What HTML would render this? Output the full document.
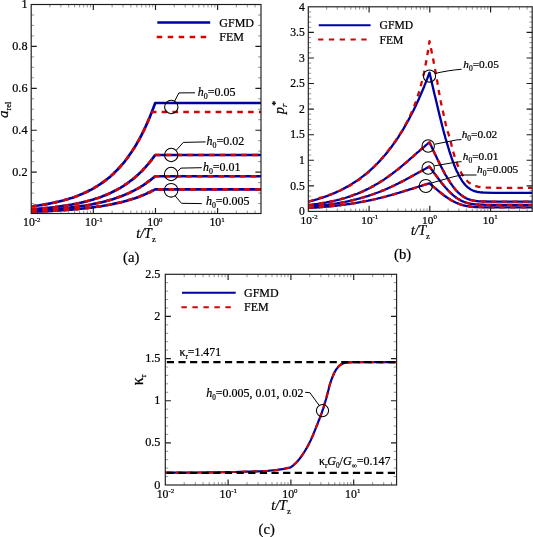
<!DOCTYPE html>
<html lang="en"><head><meta charset="utf-8"><title>GFMD vs FEM</title>
<style>html,body{margin:0;padding:0;background:#fff}svg{display:block;will-change:transform}text{font-family:'Liberation Serif', 'DejaVu Serif', serif;fill:#000;stroke:#000;stroke-width:.22px}</style>
</head><body>
<svg width="533" height="537" viewBox="0 0 533 537" role="img" aria-label="GFMD versus FEM comparison plots">
<rect width="533" height="537" fill="#fff"/>
<g id="plot-a">
<clipPath id="clipA"><rect x="31.2" y="4.5" width="229.8" height="209"/></clipPath>
<g clip-path="url(#clipA)" fill="none" stroke-linejoin="round">
<path d="M31.3 206.5 L32.7 206.3 L34.1 206.1 L35.5 205.9 L36.9 205.7 L38.3 205.5 L39.7 205.3 L41 205.1 L42.4 204.9 L43.8 204.6 L45.2 204.4 L46.6 204.1 L48 203.9 L49.4 203.6 L50.8 203.3 L52.2 203 L53.6 202.7 L55 202.4 L56.4 202.1 L57.8 201.8 L59.1 201.5 L60.5 201.1 L61.9 200.8 L63.3 200.4 L64.7 200 L66.1 199.6 L67.5 199.2 L68.9 198.8 L70.3 198.3 L71.7 197.9 L73.1 197.4 L74.5 196.9 L75.8 196.4 L77.2 195.9 L78.6 195.4 L80 194.8 L81.4 194.2 L82.8 193.6 L84.2 193 L85.6 192.4 L87 191.7 L88.4 191 L89.8 190.3 L91.2 189.6 L92.6 188.8 L93.9 188.1 L95.3 187.2 L96.7 186.4 L98.1 185.5 L99.5 184.6 L100.9 183.7 L102.3 182.7 L103.7 181.7 L105.1 180.7 L106.5 179.6 L107.9 178.5 L109.3 177.4 L110.7 176.2 L112 174.9 L113.4 173.7 L114.8 172.3 L116.2 170.9 L117.6 169.5 L119 168 L120.4 166.5 L121.8 164.9 L123.2 163.3 L124.6 161.6 L126 159.8 L127.4 158 L128.7 156.1 L130.1 154.1 L131.5 152.1 L132.9 149.9 L134.3 147.7 L135.7 145.5 L137.1 143.1 L138.5 140.6 L139.9 138.1 L141.3 135.5 L142.7 132.7 L144.1 129.9 L145.5 126.9 L146.8 123.9 L148.2 120.7 L149.6 117.4 L151 114 L152.4 110.5 L153.8 106.8 L155.2 103 L261 103" stroke="#0000a2" stroke-width="2.65"/>
<path d="M31.3 209.3 L32.7 209.2 L34.1 209.1 L35.5 209 L36.9 208.9 L38.3 208.8 L39.7 208.6 L41 208.5 L42.4 208.4 L43.8 208.3 L45.2 208.1 L46.6 208 L48 207.8 L49.4 207.7 L50.8 207.5 L52.2 207.4 L53.6 207.2 L55 207.1 L56.4 206.9 L57.8 206.7 L59.1 206.5 L60.5 206.3 L61.9 206.1 L63.3 205.9 L64.7 205.7 L66.1 205.5 L67.5 205.3 L68.9 205 L70.3 204.8 L71.7 204.6 L73.1 204.3 L74.5 204 L75.8 203.8 L77.2 203.5 L78.6 203.2 L80 202.9 L81.4 202.6 L82.8 202.2 L84.2 201.9 L85.6 201.6 L87 201.2 L88.4 200.8 L89.8 200.5 L91.2 200.1 L92.6 199.7 L93.9 199.2 L95.3 198.8 L96.7 198.3 L98.1 197.9 L99.5 197.4 L100.9 196.9 L102.3 196.4 L103.7 195.8 L105.1 195.3 L106.5 194.7 L107.9 194.1 L109.3 193.5 L110.7 192.9 L112 192.2 L113.4 191.5 L114.8 190.8 L116.2 190.1 L117.6 189.3 L119 188.6 L120.4 187.8 L121.8 186.9 L123.2 186.1 L124.6 185.2 L126 184.2 L127.4 183.3 L128.7 182.3 L130.1 181.2 L131.5 180.2 L132.9 179.1 L134.3 177.9 L135.7 176.7 L137.1 175.5 L138.5 174.3 L139.9 172.9 L141.3 171.6 L142.7 170.2 L144.1 168.7 L145.5 167.2 L146.8 165.6 L148.2 164 L149.6 162.3 L151 160.6 L152.4 158.8 L153.8 156.9 L155.2 155 L261 155" stroke="#0000a2" stroke-width="2.65"/>
<path d="M31.3 210.7 L32.7 210.6 L34.1 210.6 L35.5 210.5 L36.9 210.4 L38.3 210.3 L39.7 210.2 L41 210.2 L42.4 210.1 L43.8 210 L45.2 209.9 L46.6 209.8 L48 209.7 L49.4 209.6 L50.8 209.5 L52.2 209.4 L53.6 209.3 L55 209.1 L56.4 209 L57.8 208.9 L59.1 208.8 L60.5 208.6 L61.9 208.5 L63.3 208.4 L64.7 208.2 L66.1 208.1 L67.5 207.9 L68.9 207.8 L70.3 207.6 L71.7 207.4 L73.1 207.3 L74.5 207.1 L75.8 206.9 L77.2 206.7 L78.6 206.5 L80 206.3 L81.4 206.1 L82.8 205.9 L84.2 205.7 L85.6 205.5 L87 205.2 L88.4 205 L89.8 204.7 L91.2 204.5 L92.6 204.2 L93.9 203.9 L95.3 203.6 L96.7 203.3 L98.1 203 L99.5 202.7 L100.9 202.4 L102.3 202.1 L103.7 201.7 L105.1 201.4 L106.5 201 L107.9 200.6 L109.3 200.2 L110.7 199.8 L112 199.4 L113.4 199 L114.8 198.5 L116.2 198.1 L117.6 197.6 L119 197.1 L120.4 196.6 L121.8 196 L123.2 195.5 L124.6 194.9 L126 194.3 L127.4 193.7 L128.7 193.1 L130.1 192.5 L131.5 191.8 L132.9 191.1 L134.3 190.4 L135.7 189.6 L137.1 188.9 L138.5 188.1 L139.9 187.3 L141.3 186.4 L142.7 185.6 L144.1 184.7 L145.5 183.7 L146.8 182.7 L148.2 181.7 L149.6 180.7 L151 179.6 L152.4 178.5 L153.8 177.4 L155.2 176.2 L261 176.2" stroke="#0000a2" stroke-width="2.65"/>
<path d="M31.3 211.8 L32.7 211.7 L34.1 211.7 L35.5 211.6 L36.9 211.6 L38.3 211.5 L39.7 211.5 L41 211.4 L42.4 211.4 L43.8 211.3 L45.2 211.2 L46.6 211.2 L48 211.1 L49.4 211 L50.8 210.9 L52.2 210.9 L53.6 210.8 L55 210.7 L56.4 210.6 L57.8 210.6 L59.1 210.5 L60.5 210.4 L61.9 210.3 L63.3 210.2 L64.7 210.1 L66.1 210 L67.5 209.9 L68.9 209.8 L70.3 209.7 L71.7 209.6 L73.1 209.4 L74.5 209.3 L75.8 209.2 L77.2 209.1 L78.6 208.9 L80 208.8 L81.4 208.7 L82.8 208.5 L84.2 208.4 L85.6 208.2 L87 208.1 L88.4 207.9 L89.8 207.7 L91.2 207.6 L92.6 207.4 L93.9 207.2 L95.3 207 L96.7 206.8 L98.1 206.6 L99.5 206.4 L100.9 206.2 L102.3 206 L103.7 205.7 L105.1 205.5 L106.5 205.3 L107.9 205 L109.3 204.8 L110.7 204.5 L112 204.2 L113.4 203.9 L114.8 203.6 L116.2 203.3 L117.6 203 L119 202.7 L120.4 202.4 L121.8 202 L123.2 201.7 L124.6 201.3 L126 200.9 L127.4 200.5 L128.7 200.1 L130.1 199.7 L131.5 199.3 L132.9 198.8 L134.3 198.4 L135.7 197.9 L137.1 197.4 L138.5 196.9 L139.9 196.4 L141.3 195.8 L142.7 195.3 L144.1 194.7 L145.5 194.1 L146.8 193.5 L148.2 192.8 L149.6 192.2 L151 191.5 L152.4 190.8 L153.8 190.1 L155.2 189.3 L261 189.3" stroke="#0000a2" stroke-width="2.65"/>
<path d="M31.3 206.5 L32.7 206.3 L34.1 206.1 L35.5 205.9 L36.9 205.7 L38.3 205.5 L39.7 205.3 L41 205.1 L42.4 204.9 L43.8 204.6 L45.2 204.4 L46.6 204.1 L48 203.9 L49.4 203.6 L50.8 203.3 L52.2 203 L53.6 202.7 L55 202.4 L56.4 202.1 L57.8 201.8 L59.1 201.5 L60.5 201.1 L61.9 200.8 L63.3 200.4 L64.7 200 L66.1 199.6 L67.5 199.2 L68.9 198.8 L70.3 198.3 L71.7 197.9 L73.1 197.4 L74.5 196.9 L75.8 196.4 L77.2 195.9 L78.6 195.4 L80 194.8 L81.4 194.2 L82.8 193.6 L84.2 193 L85.6 192.4 L87 191.7 L88.4 191 L89.8 190.3 L91.2 189.6 L92.6 188.8 L93.9 188.1 L95.3 187.2 L96.7 186.4 L98.1 185.5 L99.5 184.6 L100.9 183.7 L102.3 182.7 L103.7 181.7 L105.1 180.7 L106.5 179.6 L107.9 178.5 L109.3 177.4 L110.7 176.2 L112 174.9 L113.4 173.7 L114.8 172.3 L116.2 170.9 L117.6 169.5 L119 168 L120.4 166.5 L121.8 164.9 L123.2 163.3 L124.6 161.6 L126 159.8 L127.4 158 L128.7 156.1 L130.1 154.1 L131.5 152.1 L132.9 149.9 L134.3 147.7 L135.7 145.5 L137.1 143.1 L138.5 140.6 L139.9 138.1 L141.3 135.5 L142.7 132.7 L144.1 129.9 L145.5 126.9 L146.8 123.9 L148.2 120.7 L149.6 117.4 L151 114 L152.4 112 L153.8 112 L155.2 112 L261 112" stroke="#d40404" stroke-width="2.65" stroke-dasharray="5.6 5.2"/>
<path d="M31.3 209.3 L32.7 209.2 L34.1 209.1 L35.5 209 L36.9 208.9 L38.3 208.8 L39.7 208.6 L41 208.5 L42.4 208.4 L43.8 208.3 L45.2 208.1 L46.6 208 L48 207.8 L49.4 207.7 L50.8 207.5 L52.2 207.4 L53.6 207.2 L55 207.1 L56.4 206.9 L57.8 206.7 L59.1 206.5 L60.5 206.3 L61.9 206.1 L63.3 205.9 L64.7 205.7 L66.1 205.5 L67.5 205.3 L68.9 205 L70.3 204.8 L71.7 204.6 L73.1 204.3 L74.5 204 L75.8 203.8 L77.2 203.5 L78.6 203.2 L80 202.9 L81.4 202.6 L82.8 202.2 L84.2 201.9 L85.6 201.6 L87 201.2 L88.4 200.8 L89.8 200.5 L91.2 200.1 L92.6 199.7 L93.9 199.2 L95.3 198.8 L96.7 198.3 L98.1 197.9 L99.5 197.4 L100.9 196.9 L102.3 196.4 L103.7 195.8 L105.1 195.3 L106.5 194.7 L107.9 194.1 L109.3 193.5 L110.7 192.9 L112 192.2 L113.4 191.5 L114.8 190.8 L116.2 190.1 L117.6 189.3 L119 188.6 L120.4 187.8 L121.8 186.9 L123.2 186.1 L124.6 185.2 L126 184.2 L127.4 183.3 L128.7 182.3 L130.1 181.2 L131.5 180.2 L132.9 179.1 L134.3 177.9 L135.7 176.7 L137.1 175.5 L138.5 174.3 L139.9 172.9 L141.3 171.6 L142.7 170.2 L144.1 168.7 L145.5 167.2 L146.8 165.6 L148.2 164 L149.6 162.3 L151 160.6 L152.4 158.8 L153.8 156.9 L155.2 155 L261 155" stroke="#d40404" stroke-width="2.65" stroke-dasharray="5.6 5.2"/>
<path d="M31.3 210.7 L32.7 210.6 L34.1 210.6 L35.5 210.5 L36.9 210.4 L38.3 210.3 L39.7 210.2 L41 210.2 L42.4 210.1 L43.8 210 L45.2 209.9 L46.6 209.8 L48 209.7 L49.4 209.6 L50.8 209.5 L52.2 209.4 L53.6 209.3 L55 209.1 L56.4 209 L57.8 208.9 L59.1 208.8 L60.5 208.6 L61.9 208.5 L63.3 208.4 L64.7 208.2 L66.1 208.1 L67.5 207.9 L68.9 207.8 L70.3 207.6 L71.7 207.4 L73.1 207.3 L74.5 207.1 L75.8 206.9 L77.2 206.7 L78.6 206.5 L80 206.3 L81.4 206.1 L82.8 205.9 L84.2 205.7 L85.6 205.5 L87 205.2 L88.4 205 L89.8 204.7 L91.2 204.5 L92.6 204.2 L93.9 203.9 L95.3 203.6 L96.7 203.3 L98.1 203 L99.5 202.7 L100.9 202.4 L102.3 202.1 L103.7 201.7 L105.1 201.4 L106.5 201 L107.9 200.6 L109.3 200.2 L110.7 199.8 L112 199.4 L113.4 199 L114.8 198.5 L116.2 198.1 L117.6 197.6 L119 197.1 L120.4 196.6 L121.8 196 L123.2 195.5 L124.6 194.9 L126 194.3 L127.4 193.7 L128.7 193.1 L130.1 192.5 L131.5 191.8 L132.9 191.1 L134.3 190.4 L135.7 189.6 L137.1 188.9 L138.5 188.1 L139.9 187.3 L141.3 186.4 L142.7 185.6 L144.1 184.7 L145.5 183.7 L146.8 182.7 L148.2 181.7 L149.6 180.7 L151 179.6 L152.4 178.5 L153.8 177.4 L155.2 176.2 L261 176.2" stroke="#d40404" stroke-width="2.65" stroke-dasharray="5.6 5.2"/>
<path d="M31.3 211.8 L32.7 211.7 L34.1 211.7 L35.5 211.6 L36.9 211.6 L38.3 211.5 L39.7 211.5 L41 211.4 L42.4 211.4 L43.8 211.3 L45.2 211.2 L46.6 211.2 L48 211.1 L49.4 211 L50.8 210.9 L52.2 210.9 L53.6 210.8 L55 210.7 L56.4 210.6 L57.8 210.6 L59.1 210.5 L60.5 210.4 L61.9 210.3 L63.3 210.2 L64.7 210.1 L66.1 210 L67.5 209.9 L68.9 209.8 L70.3 209.7 L71.7 209.6 L73.1 209.4 L74.5 209.3 L75.8 209.2 L77.2 209.1 L78.6 208.9 L80 208.8 L81.4 208.7 L82.8 208.5 L84.2 208.4 L85.6 208.2 L87 208.1 L88.4 207.9 L89.8 207.7 L91.2 207.6 L92.6 207.4 L93.9 207.2 L95.3 207 L96.7 206.8 L98.1 206.6 L99.5 206.4 L100.9 206.2 L102.3 206 L103.7 205.7 L105.1 205.5 L106.5 205.3 L107.9 205 L109.3 204.8 L110.7 204.5 L112 204.2 L113.4 203.9 L114.8 203.6 L116.2 203.3 L117.6 203 L119 202.7 L120.4 202.4 L121.8 202 L123.2 201.7 L124.6 201.3 L126 200.9 L127.4 200.5 L128.7 200.1 L130.1 199.7 L131.5 199.3 L132.9 198.8 L134.3 198.4 L135.7 197.9 L137.1 197.4 L138.5 196.9 L139.9 196.4 L141.3 195.8 L142.7 195.3 L144.1 194.7 L145.5 194.1 L146.8 193.5 L148.2 192.8 L149.6 192.2 L151 191.5 L152.4 190.8 L153.8 190.1 L155.2 189.3 L261 189.3" stroke="#d40404" stroke-width="2.65" stroke-dasharray="5.6 5.2"/>
</g>
<path d="M31.2 203.5h2.9M261 203.5h-2.9M31.2 193.1h2.9M261 193.1h-2.9M31.2 182.6h2.9M261 182.6h-2.9M31.2 161.6h2.9M261 161.6h-2.9M31.2 151.1h2.9M261 151.1h-2.9M31.2 140.7h2.9M261 140.7h-2.9M31.2 119.7h2.9M261 119.7h-2.9M31.2 109.2h2.9M261 109.2h-2.9M31.2 98.8h2.9M261 98.8h-2.9M31.2 77.8h2.9M261 77.8h-2.9M31.2 67.3h2.9M261 67.3h-2.9M31.2 56.9h2.9M261 56.9h-2.9M31.2 35.9h2.9M261 35.9h-2.9M31.2 25.4h2.9M261 25.4h-2.9M31.2 15h2.9M261 15h-2.9M49.9 213.5v-2.9M49.9 4.5v2.9M60.9 213.5v-2.9M60.9 4.5v2.9M68.6 213.5v-2.9M68.6 4.5v2.9M74.6 213.5v-2.9M74.6 4.5v2.9M79.6 213.5v-2.9M79.6 4.5v2.9M83.7 213.5v-2.9M83.7 4.5v2.9M87.3 213.5v-2.9M87.3 4.5v2.9M90.5 213.5v-2.9M90.5 4.5v2.9M112.1 213.5v-2.9M112.1 4.5v2.9M123 213.5v-2.9M123 4.5v2.9M130.8 213.5v-2.9M130.8 4.5v2.9M136.8 213.5v-2.9M136.8 4.5v2.9M141.7 213.5v-2.9M141.7 4.5v2.9M145.9 213.5v-2.9M145.9 4.5v2.9M149.5 213.5v-2.9M149.5 4.5v2.9M152.7 213.5v-2.9M152.7 4.5v2.9M174.2 213.5v-2.9M174.2 4.5v2.9M185.2 213.5v-2.9M185.2 4.5v2.9M192.9 213.5v-2.9M192.9 4.5v2.9M198.9 213.5v-2.9M198.9 4.5v2.9M203.9 213.5v-2.9M203.9 4.5v2.9M208 213.5v-2.9M208 4.5v2.9M211.6 213.5v-2.9M211.6 4.5v2.9M214.8 213.5v-2.9M214.8 4.5v2.9M236.4 213.5v-2.9M236.4 4.5v2.9M247.3 213.5v-2.9M247.3 4.5v2.9M255.1 213.5v-2.9M255.1 4.5v2.9" stroke="#666" stroke-width="0.7" fill="none"/>
<path d="M31.2 172.1h5.6M261 172.1h-5.6M31.2 130.2h5.6M261 130.2h-5.6M31.2 88.3h5.6M261 88.3h-5.6M31.2 46.4h5.6M261 46.4h-5.6M93.3 213.5v-5.6M93.3 4.5v5.6M155.5 213.5v-5.6M155.5 4.5v5.6M217.6 213.5v-5.6M217.6 4.5v5.6" stroke="#1c1c1c" stroke-width="1.15" fill="none"/>
<rect x="31.2" y="4.5" width="229.8" height="209" fill="none" stroke="#1c1c1c" stroke-width="1.15"/>
<text x="27.5" y="175.6" text-anchor="end" font-size="12.2">0.2</text>
<text x="27.5" y="133.7" text-anchor="end" font-size="12.2">0.4</text>
<text x="27.5" y="91.8" text-anchor="end" font-size="12.2">0.6</text>
<text x="27.5" y="49.9" text-anchor="end" font-size="12.2">0.8</text>
<text x="27.5" y="8" text-anchor="end" font-size="12.2">1</text>
<text x="23" y="226.1" font-size="11.8">10<tspan dy="-4.6" font-size="6.9">-2</tspan></text>
<text x="85.1" y="226.1" font-size="11.8">10<tspan dy="-4.6" font-size="6.9">-1</tspan></text>
<text x="147.3" y="226.1" font-size="11.8">10<tspan dy="-4.6" font-size="6.9">0</tspan></text>
<text x="209.4" y="226.1" font-size="11.8">10<tspan dy="-4.6" font-size="6.9">1</tspan></text>
<path d="M157.3 22.5H210.2" stroke="#0000a2" stroke-width="2.7" fill="none"/>
<path d="M156.7 37H210.2" stroke="#d40404" stroke-width="2.7" stroke-dasharray="5.5 5.5" fill="none"/>
<text x="219.3" y="26.6" font-size="12.0">GFMD</text>
<text x="219.3" y="41.1" font-size="12.0">FEM</text>
<circle cx="171.3" cy="107" r="6.7" fill="none" stroke="#000" stroke-width="1.05"/>
<path d="M174.6 101.2L178.9 92.9L195 92.8" fill="none" stroke="#000" stroke-width="1" stroke-linejoin="round"/>
<text x="197.8" y="96" font-size="12.0"><tspan font-style="italic">h</tspan><tspan dy="3" font-size="7.9">0</tspan><tspan dy="-3">=0.05</tspan></text>
<circle cx="171.2" cy="155" r="6.7" fill="none" stroke="#000" stroke-width="1.05"/>
<path d="M176.1 150.4L183.3 142.4L205.6 141.9" fill="none" stroke="#000" stroke-width="1" stroke-linejoin="round"/>
<text x="206.6" y="144.6" font-size="12.0"><tspan font-style="italic">h</tspan><tspan dy="3" font-size="7.9">0</tspan><tspan dy="-3">=0.02</tspan></text>
<circle cx="171.1" cy="174" r="6.7" fill="none" stroke="#000" stroke-width="1.05"/>
<path d="M177.4 171.6L181 168.1L201.8 167.7" fill="none" stroke="#000" stroke-width="1" stroke-linejoin="round"/>
<text x="202.9" y="170.6" font-size="12.0"><tspan font-style="italic">h</tspan><tspan dy="3" font-size="7.9">0</tspan><tspan dy="-3">=0.01</tspan></text>
<circle cx="171.1" cy="190.3" r="6.8" fill="none" stroke="#000" stroke-width="1.05"/>
<path d="M175.1 195.8L181.5 203.3L201.8 203.6" fill="none" stroke="#000" stroke-width="1" stroke-linejoin="round"/>
<text x="205.9" y="204.8" font-size="12.0"><tspan font-style="italic">h</tspan><tspan dy="3" font-size="7.9">0</tspan><tspan dy="-3">=0.005</tspan></text>
<text x="136.3" y="237.6" font-size="14.0" font-style="italic">t/T<tspan dy="4.4" font-size="8.5" font-style="normal">z</tspan></text>
<text transform="translate(8.3 118) rotate(-90)" font-size="15" font-style="italic">a<tspan dy="3" font-size="8.5" font-style="normal">rel</tspan></text>
<text x="131.2" y="261.6" font-size="14.6" text-anchor="middle">(a)</text>
</g>
<g id="plot-b">
<clipPath id="clipB"><rect x="308.3" y="6.8" width="223.9" height="204.6"/></clipPath>
<g clip-path="url(#clipB)" fill="none" stroke-linejoin="round">
<path d="M308.3 201.7 L309.7 201.4 L311 201 L312.4 200.6 L313.7 200.3 L315.1 199.9 L316.5 199.5 L317.8 199.1 L319.2 198.7 L320.6 198.2 L321.9 197.8 L323.3 197.3 L324.6 196.9 L326 196.4 L327.4 195.9 L328.7 195.4 L330.1 194.8 L331.5 194.3 L332.8 193.7 L334.2 193.1 L335.5 192.6 L336.9 191.9 L338.3 191.3 L339.6 190.7 L341 190 L342.3 189.3 L343.7 188.6 L345.1 187.9 L346.4 187.1 L347.8 186.4 L349.2 185.6 L350.5 184.8 L351.9 183.9 L353.2 183.1 L354.6 182.2 L356 181.3 L357.3 180.4 L358.7 179.4 L360 178.5 L361.4 177.4 L362.8 176.4 L364.1 175.3 L365.5 174.3 L366.9 173.1 L368.2 172 L369.6 170.8 L370.9 169.6 L372.3 168.3 L373.7 167.1 L375 165.8 L376.4 164.4 L377.8 163 L379.1 161.6 L380.5 160.1 L381.8 158.6 L383.2 157.1 L384.6 155.5 L385.9 153.9 L387.3 152.2 L388.6 150.5 L390 148.8 L391.4 147 L392.7 145.1 L394.1 143.3 L395.5 141.3 L396.8 139.3 L398.2 137.3 L399.5 135.2 L400.9 133 L402.3 130.8 L403.6 128.6 L405 126.2 L406.3 123.9 L407.7 121.4 L409.1 118.9 L410.4 116.3 L411.8 113.7 L413.2 111 L414.5 108.2 L415.9 105.4 L417.2 102.5 L418.6 99.5 L420 96.4 L421.3 93.3 L422.7 90 L424.1 86.7 L425.4 83.3 L426.8 79.8 L428.1 76.3 L429.5 72.6 L430 74.8 L430.5 76.9 L431 79.1 L431.5 81.3 L432 83.5 L432.5 85.6 L433 87.8 L433.5 90 L434 92.1 L434.5 94.3 L435.1 96.4 L435.6 98.6 L436.1 100.7 L436.6 102.8 L437.1 104.9 L437.6 107.1 L438.1 109.1 L438.6 111.2 L439.1 113.3 L439.6 115.4 L440.1 117.4 L440.6 119.4 L441.1 121.4 L441.6 123.4 L442.1 125.4 L442.6 127.3 L443.1 129.3 L443.6 131.2 L444.1 133.1 L444.6 134.9 L445.1 136.8 L445.6 138.6 L446.2 140.4 L446.7 142.1 L447.2 143.9 L447.7 145.6 L448.2 147.3 L448.7 148.9 L449.2 150.6 L449.7 152.1 L450.2 153.7 L450.7 155.2 L451.2 156.7 L451.7 158.2 L452.2 159.6 L452.7 161 L453.2 162.4 L453.7 163.7 L454.2 165 L454.7 166.3 L455.2 167.5 L455.7 168.7 L456.2 169.9 L456.7 171 L457.3 172.1 L457.8 173.1 L458.3 174.1 L458.8 175.1 L459.3 176.1 L459.8 177 L460.3 177.9 L460.8 178.7 L461.3 179.5 L461.8 180.3 L462.3 181.1 L462.8 181.8 L463.3 182.5 L463.8 183.1 L464.3 183.8 L464.8 184.4 L465.3 184.9 L465.8 185.5 L466.3 186 L466.8 186.5 L467.3 186.9 L467.8 187.3 L468.4 187.8 L468.9 188.1 L469.4 188.5 L469.9 188.8 L470.4 189.2 L470.9 189.5 L471.4 189.7 L471.9 190 L472.4 190.2 L472.9 190.5 L473.4 190.7 L473.9 190.9 L474.4 191.1 L474.9 191.2 L475.4 191.4 L475.9 191.5 L476.4 191.6 L476.9 191.8 L477.4 191.9 L477.9 192 L478.4 192.1 L478.9 192.1 L479.5 192.2 L480 192.3 L480.5 192.3 L481 192.4 L481.5 192.4 L482 192.5 L482.5 192.5 L483 192.6 L483.5 192.6 L484 192.6 L484.5 192.6 L494 192.8 L503.6 192.8 L513.1 192.8 L522.7 192.8 L532.2 192.8" stroke="#0000a2" stroke-width="2.3"/>
<path d="M308.3 205.1 L309.7 204.9 L311 204.8 L312.4 204.6 L313.7 204.4 L315.1 204.2 L316.5 204.1 L317.8 203.9 L319.2 203.7 L320.6 203.4 L321.9 203.2 L323.3 203 L324.6 202.8 L326 202.5 L327.4 202.2 L328.7 202 L330.1 201.7 L331.5 201.4 L332.8 201.1 L334.2 200.8 L335.5 200.5 L336.9 200.2 L338.3 199.8 L339.6 199.5 L341 199.1 L342.3 198.7 L343.7 198.4 L345.1 198 L346.4 197.5 L347.8 197.1 L349.2 196.7 L350.5 196.2 L351.9 195.7 L353.2 195.2 L354.6 194.7 L356 194.2 L357.3 193.7 L358.7 193.1 L360 192.6 L361.4 192 L362.8 191.4 L364.1 190.7 L365.5 190.1 L366.9 189.4 L368.2 188.8 L369.6 188.1 L370.9 187.4 L372.3 186.6 L373.7 185.9 L375 185.1 L376.4 184.3 L377.8 183.5 L379.1 182.7 L380.5 181.8 L381.8 181 L383.2 180.1 L384.6 179.2 L385.9 178.2 L387.3 177.3 L388.6 176.3 L390 175.3 L391.4 174.3 L392.7 173.3 L394.1 172.3 L395.5 171.2 L396.8 170.2 L398.2 169.1 L399.5 168 L400.9 166.8 L402.3 165.7 L403.6 164.6 L405 163.4 L406.3 162.3 L407.7 161.1 L409.1 159.9 L410.4 158.7 L411.8 157.5 L413.2 156.3 L414.5 155.1 L415.9 153.9 L417.2 152.7 L418.6 151.6 L420 150.4 L421.3 149.2 L422.7 148 L424.1 146.8 L425.4 145.7 L426.8 144.5 L428.1 143.4 L429.5 142.3 L430 143.4 L430.5 144.5 L431 145.5 L431.5 146.6 L432 147.7 L432.5 148.8 L433 149.9 L433.5 150.9 L434 152 L434.5 153.1 L435.1 154.2 L435.6 155.2 L436.1 156.3 L436.6 157.3 L437.1 158.4 L437.6 159.4 L438.1 160.5 L438.6 161.5 L439.1 162.5 L439.6 163.6 L440.1 164.6 L440.6 165.6 L441.1 166.6 L441.6 167.5 L442.1 168.5 L442.6 169.5 L443.1 170.4 L443.6 171.4 L444.1 172.3 L444.6 173.3 L445.1 174.2 L445.6 175.1 L446.2 175.9 L446.7 176.8 L447.2 177.7 L447.7 178.5 L448.2 179.3 L448.7 180.2 L449.2 181 L449.7 181.7 L450.2 182.5 L450.7 183.3 L451.2 184 L451.7 184.7 L452.2 185.4 L452.7 186.1 L453.2 186.8 L453.7 187.4 L454.2 188.1 L454.7 188.7 L455.2 189.3 L455.7 189.9 L456.2 190.5 L456.7 191 L457.3 191.5 L457.8 192.1 L458.3 192.6 L458.8 193 L459.3 193.5 L459.8 194 L460.3 194.4 L460.8 194.8 L461.3 195.2 L461.8 195.6 L462.3 195.9 L462.8 196.3 L463.3 196.6 L463.8 196.9 L464.3 197.2 L464.8 197.5 L465.3 197.8 L465.8 198.1 L466.3 198.3 L466.8 198.6 L467.3 198.8 L467.8 199 L468.4 199.2 L468.9 199.4 L469.4 199.5 L469.9 199.7 L470.4 199.9 L470.9 200 L471.4 200.1 L471.9 200.3 L472.4 200.4 L472.9 200.5 L473.4 200.6 L473.9 200.7 L474.4 200.8 L474.9 200.9 L475.4 200.9 L475.9 201 L476.4 201.1 L476.9 201.1 L477.4 201.2 L477.9 201.2 L478.4 201.3 L478.9 201.3 L479.5 201.3 L480 201.4 L480.5 201.4 L481 201.4 L481.5 201.4 L482 201.5 L482.5 201.5 L483 201.5 L483.5 201.5 L484 201.5 L484.5 201.5 L494 201.6 L503.6 201.6 L513.1 201.6 L522.7 201.6 L532.2 201.6" stroke="#0000a2" stroke-width="2.3"/>
<path d="M308.3 206.8 L309.7 206.7 L311 206.6 L312.4 206.4 L313.7 206.3 L315.1 206.2 L316.5 206.1 L317.8 205.9 L319.2 205.8 L320.6 205.6 L321.9 205.5 L323.3 205.3 L324.6 205.1 L326 205 L327.4 204.8 L328.7 204.6 L330.1 204.4 L331.5 204.2 L332.8 204 L334.2 203.8 L335.5 203.6 L336.9 203.4 L338.3 203.1 L339.6 202.9 L341 202.7 L342.3 202.4 L343.7 202.1 L345.1 201.9 L346.4 201.6 L347.8 201.3 L349.2 201 L350.5 200.7 L351.9 200.4 L353.2 200.1 L354.6 199.7 L356 199.4 L357.3 199 L358.7 198.7 L360 198.3 L361.4 197.9 L362.8 197.5 L364.1 197.1 L365.5 196.7 L366.9 196.3 L368.2 195.9 L369.6 195.4 L370.9 195 L372.3 194.5 L373.7 194 L375 193.5 L376.4 193 L377.8 192.5 L379.1 192 L380.5 191.5 L381.8 190.9 L383.2 190.3 L384.6 189.8 L385.9 189.2 L387.3 188.6 L388.6 188 L390 187.4 L391.4 186.8 L392.7 186.1 L394.1 185.5 L395.5 184.8 L396.8 184.1 L398.2 183.5 L399.5 182.8 L400.9 182.1 L402.3 181.4 L403.6 180.7 L405 180 L406.3 179.2 L407.7 178.5 L409.1 177.8 L410.4 177 L411.8 176.3 L413.2 175.5 L414.5 174.8 L415.9 174 L417.2 173.3 L418.6 172.5 L420 171.8 L421.3 171 L422.7 170.3 L424.1 169.5 L425.4 168.8 L426.8 168 L428.1 167.3 L429.5 166.6 L430 167.3 L430.5 168 L431 168.7 L431.5 169.4 L432 170.1 L432.5 170.8 L433 171.5 L433.5 172.2 L434 172.9 L434.5 173.5 L435.1 174.2 L435.6 174.9 L436.1 175.6 L436.6 176.3 L437.1 177 L437.6 177.6 L438.1 178.3 L438.6 179 L439.1 179.6 L439.6 180.3 L440.1 180.9 L440.6 181.6 L441.1 182.2 L441.6 182.9 L442.1 183.5 L442.6 184.1 L443.1 184.7 L443.6 185.3 L444.1 185.9 L444.6 186.5 L445.1 187.1 L445.6 187.7 L446.2 188.3 L446.7 188.8 L447.2 189.4 L447.7 189.9 L448.2 190.5 L448.7 191 L449.2 191.5 L449.7 192 L450.2 192.5 L450.7 193 L451.2 193.5 L451.7 193.9 L452.2 194.4 L452.7 194.8 L453.2 195.3 L453.7 195.7 L454.2 196.1 L454.7 196.5 L455.2 196.9 L455.7 197.3 L456.2 197.6 L456.7 198 L457.3 198.3 L457.8 198.7 L458.3 199 L458.8 199.3 L459.3 199.6 L459.8 199.9 L460.3 200.1 L460.8 200.4 L461.3 200.7 L461.8 200.9 L462.3 201.2 L462.8 201.4 L463.3 201.6 L463.8 201.8 L464.3 202 L464.8 202.2 L465.3 202.4 L465.8 202.5 L466.3 202.7 L466.8 202.8 L467.3 203 L467.8 203.1 L468.4 203.2 L468.9 203.4 L469.4 203.5 L469.9 203.6 L470.4 203.7 L470.9 203.8 L471.4 203.9 L471.9 203.9 L472.4 204 L472.9 204.1 L473.4 204.2 L473.9 204.2 L474.4 204.3 L474.9 204.3 L475.4 204.4 L475.9 204.4 L476.4 204.4 L476.9 204.5 L477.4 204.5 L477.9 204.5 L478.4 204.6 L478.9 204.6 L479.5 204.6 L480 204.6 L480.5 204.7 L481 204.7 L481.5 204.7 L482 204.7 L482.5 204.7 L483 204.7 L483.5 204.7 L484 204.7 L484.5 204.8 L494 204.8 L503.6 204.8 L513.1 204.8 L522.7 204.8 L532.2 204.8" stroke="#0000a2" stroke-width="2.3"/>
<path d="M308.3 208 L309.7 207.9 L311 207.8 L312.4 207.7 L313.7 207.7 L315.1 207.6 L316.5 207.5 L317.8 207.4 L319.2 207.3 L320.6 207.2 L321.9 207.1 L323.3 206.9 L324.6 206.8 L326 206.7 L327.4 206.6 L328.7 206.5 L330.1 206.3 L331.5 206.2 L332.8 206 L334.2 205.9 L335.5 205.8 L336.9 205.6 L338.3 205.4 L339.6 205.3 L341 205.1 L342.3 204.9 L343.7 204.8 L345.1 204.6 L346.4 204.4 L347.8 204.2 L349.2 204 L350.5 203.8 L351.9 203.6 L353.2 203.4 L354.6 203.2 L356 203 L357.3 202.7 L358.7 202.5 L360 202.2 L361.4 202 L362.8 201.7 L364.1 201.5 L365.5 201.2 L366.9 200.9 L368.2 200.7 L369.6 200.4 L370.9 200.1 L372.3 199.8 L373.7 199.5 L375 199.2 L376.4 198.9 L377.8 198.5 L379.1 198.2 L380.5 197.9 L381.8 197.5 L383.2 197.2 L384.6 196.8 L385.9 196.5 L387.3 196.1 L388.6 195.7 L390 195.4 L391.4 195 L392.7 194.6 L394.1 194.2 L395.5 193.8 L396.8 193.4 L398.2 193 L399.5 192.6 L400.9 192.2 L402.3 191.8 L403.6 191.3 L405 190.9 L406.3 190.5 L407.7 190.1 L409.1 189.6 L410.4 189.2 L411.8 188.8 L413.2 188.3 L414.5 187.9 L415.9 187.5 L417.2 187 L418.6 186.6 L420 186.2 L421.3 185.8 L422.7 185.3 L424.1 184.9 L425.4 184.5 L426.8 184.1 L428.1 183.7 L429.5 183.3 L430 183.7 L430.5 184.2 L431 184.6 L431.5 185.1 L432 185.5 L432.5 185.9 L433 186.4 L433.5 186.8 L434 187.2 L434.5 187.7 L435.1 188.1 L435.6 188.5 L436.1 189 L436.6 189.4 L437.1 189.8 L437.6 190.2 L438.1 190.7 L438.6 191.1 L439.1 191.5 L439.6 191.9 L440.1 192.3 L440.6 192.7 L441.1 193.1 L441.6 193.5 L442.1 193.9 L442.6 194.3 L443.1 194.7 L443.6 195.1 L444.1 195.5 L444.6 195.8 L445.1 196.2 L445.6 196.6 L446.2 196.9 L446.7 197.3 L447.2 197.6 L447.7 198 L448.2 198.3 L448.7 198.6 L449.2 198.9 L449.7 199.3 L450.2 199.6 L450.7 199.9 L451.2 200.2 L451.7 200.5 L452.2 200.8 L452.7 201 L453.2 201.3 L453.7 201.6 L454.2 201.8 L454.7 202.1 L455.2 202.3 L455.7 202.6 L456.2 202.8 L456.7 203 L457.3 203.2 L457.8 203.4 L458.3 203.6 L458.8 203.8 L459.3 204 L459.8 204.2 L460.3 204.4 L460.8 204.5 L461.3 204.7 L461.8 204.9 L462.3 205 L462.8 205.2 L463.3 205.3 L463.8 205.4 L464.3 205.5 L464.8 205.7 L465.3 205.8 L465.8 205.9 L466.3 206 L466.8 206.1 L467.3 206.2 L467.8 206.2 L468.4 206.3 L468.9 206.4 L469.4 206.5 L469.9 206.5 L470.4 206.6 L470.9 206.7 L471.4 206.7 L471.9 206.8 L472.4 206.8 L472.9 206.9 L473.4 206.9 L473.9 206.9 L474.4 207 L474.9 207 L475.4 207 L475.9 207.1 L476.4 207.1 L476.9 207.1 L477.4 207.1 L477.9 207.1 L478.4 207.2 L478.9 207.2 L479.5 207.2 L480 207.2 L480.5 207.2 L481 207.2 L481.5 207.2 L482 207.2 L482.5 207.2 L483 207.3 L483.5 207.3 L484 207.3 L484.5 207.3 L494 207.3 L503.6 207.3 L513.1 207.3 L522.7 207.3 L532.2 207.3" stroke="#0000a2" stroke-width="2.3"/>
<path d="M308.3 201.7 L309.7 201.3 L311 200.8 L312.4 200.4 L313.7 199.9 L315.1 199.5 L316.5 199 L317.8 198.6 L319.2 198.2 L320.6 197.7 L321.9 197.3 L323.3 196.8 L324.6 196.4 L326 195.9 L327.4 195.4 L328.7 195 L330.1 194.5 L331.5 194 L332.8 193.5 L334.2 192.9 L335.5 192.4 L336.9 191.9 L338.3 191.3 L339.6 190.7 L341 190.1 L342.3 189.5 L343.7 188.8 L345.1 188.2 L346.4 187.5 L347.8 186.7 L349.2 186 L350.5 185.2 L351.9 184.4 L353.2 183.6 L354.6 182.7 L356 181.8 L357.3 180.9 L358.7 180 L360 179 L361.4 177.9 L362.8 176.9 L364.1 175.8 L365.5 174.7 L366.9 173.5 L368.2 172.3 L369.6 171.1 L370.9 169.8 L372.3 168.5 L373.7 167.2 L375 165.8 L376.4 164.4 L377.8 162.9 L379.1 161.5 L380.5 159.9 L381.8 158.4 L383.2 156.8 L384.6 155.2 L385.9 153.5 L387.3 151.8 L388.6 150.1 L390 148.3 L391.4 146.5 L392.7 144.7 L394.1 142.8 L395.5 140.9 L396.8 138.9 L398.2 136.9 L399.5 134.8 L400.9 132.6 L402.3 130.4 L403.6 128.1 L405 125.7 L406.3 123.2 L407.7 120.6 L409.1 117.8 L410.4 115 L411.8 111.9 L413.2 108.7 L414.5 105.3 L415.9 101.6 L417.2 97.7 L418.6 93.4 L420 88.8 L421.3 83.8 L422.7 78.4 L424.1 72.4 L425.4 65.7 L426.8 58.4 L428.1 50.3 L429.5 41.2 L430.4 45.3 L431.2 49.6 L432.1 53.9 L433 58.2 L433.8 62.7 L434.7 67.2 L435.5 71.8 L436.4 76.6 L437.3 81.7 L438.1 87.1 L439 92.2 L439.9 96.9 L440.7 101.3 L441.6 105.4 L442.4 109.4 L443.3 113.1 L444.2 116.8 L445 120.8 L445.9 125 L446.8 128.7 L447.6 131.5 L448.5 133.8 L449.3 136.7 L450.2 139.9 L451.1 143.3 L451.9 146.8 L452.8 150.2 L453.7 153.4 L454.5 156.2 L455.4 158.8 L456.3 161.4 L457.1 163.8 L458 166 L458.8 168.1 L459.7 169.9 L460.6 171.6 L461.4 173.1 L462.3 174.6 L463.2 175.9 L464 177.2 L464.9 178.4 L465.7 179.5 L466.6 180.4 L467.5 181.3 L468.3 182 L469.2 182.8 L470.1 183.4 L470.9 184 L471.8 184.6 L472.7 185.1 L473.5 185.4 L474.4 185.7 L475.2 186 L476.1 186.2 L477 186.4 L477.8 186.6 L478.7 186.8 L479.6 187 L480.4 187.1 L481.3 187.3 L482.1 187.4 L483 187.4 L483.9 187.5 L484.7 187.5 L485.6 187.6 L486.5 187.6 L487.3 187.6 L488.2 187.6 L489 187.7 L489.9 187.7 L490.8 187.7 L491.6 187.7 L492.5 187.7 L493.4 187.7 L494.2 187.8 L495.1 187.8 L496 187.8 L496.8 187.8 L497.7 187.8 L498.5 187.8 L499.4 187.8 L500.3 187.8 L501.1 187.8 L502 187.8 L502.9 187.8 L503.7 187.8 L504.6 187.8 L505.4 187.8 L506.3 187.8 L507.2 187.8 L508 187.8 L508.9 187.8 L509.8 187.8 L510.6 187.8 L511.5 187.8 L512.4 187.8 L513.2 187.8 L514.1 187.8 L514.9 187.8 L515.8 187.8 L516.7 187.8 L517.5 187.8 L518.4 187.8 L519.3 187.8 L520.1 187.8 L521 187.8 L521.8 187.8 L522.7 187.8 L523.6 187.8 L524.4 187.8 L525.3 187.8 L526.2 187.8 L527 187.8 L527.9 187.8 L528.7 187.8 L529.6 187.8 L530.5 187.8 L531.3 187.8 L532.2 187.8" stroke="#d40404" stroke-width="2.3" stroke-dasharray="5.4 5.2"/>
<path d="M308.3 205.1 L309.7 204.9 L311 204.8 L312.4 204.6 L313.7 204.4 L315.1 204.2 L316.5 204.1 L317.8 203.9 L319.2 203.7 L320.6 203.4 L321.9 203.2 L323.3 203 L324.6 202.8 L326 202.5 L327.4 202.2 L328.7 202 L330.1 201.7 L331.5 201.4 L332.8 201.1 L334.2 200.8 L335.5 200.5 L336.9 200.2 L338.3 199.8 L339.6 199.5 L341 199.1 L342.3 198.7 L343.7 198.4 L345.1 198 L346.4 197.5 L347.8 197.1 L349.2 196.7 L350.5 196.2 L351.9 195.7 L353.2 195.2 L354.6 194.7 L356 194.2 L357.3 193.7 L358.7 193.1 L360 192.6 L361.4 192 L362.8 191.4 L364.1 190.7 L365.5 190.1 L366.9 189.4 L368.2 188.8 L369.6 188.1 L370.9 187.4 L372.3 186.6 L373.7 185.9 L375 185.1 L376.4 184.3 L377.8 183.5 L379.1 182.7 L380.5 181.8 L381.8 181 L383.2 180.1 L384.6 179.2 L385.9 178.2 L387.3 177.3 L388.6 176.3 L390 175.3 L391.4 174.3 L392.7 173.3 L394.1 172.3 L395.5 171.2 L396.8 170.2 L398.2 169.1 L399.5 168 L400.9 166.8 L402.3 165.7 L403.6 164.6 L405 163.4 L406.3 162.3 L407.7 161.1 L409.1 159.9 L410.4 158.7 L411.8 157.5 L413.2 156.3 L414.5 155.1 L415.9 153.9 L417.2 152.7 L418.6 151.6 L420 150.4 L421.3 149.2 L422.7 148 L424.1 146.8 L425.4 145.7 L426.8 144.5 L428.1 143.4 L429.5 142.3 L430 143.4 L430.5 144.5 L431 145.5 L431.5 146.6 L432 147.7 L432.5 148.8 L433 149.9 L433.5 150.9 L434 152 L434.5 153.1 L435.1 154.2 L435.6 155.2 L436.1 156.3 L436.6 157.3 L437.1 158.4 L437.6 159.4 L438.1 160.5 L438.6 161.5 L439.1 162.5 L439.6 163.6 L440.1 164.6 L440.6 165.6 L441.1 166.6 L441.6 167.5 L442.1 168.5 L442.6 169.5 L443.1 170.4 L443.6 171.4 L444.1 172.3 L444.6 173.3 L445.1 174.2 L445.6 175.1 L446.2 175.9 L446.7 176.8 L447.2 177.7 L447.7 178.5 L448.2 179.3 L448.7 180.2 L449.2 181 L449.7 181.7 L450.2 182.5 L450.7 183.3 L451.2 184 L451.7 184.7 L452.2 185.4 L452.7 186.1 L453.2 186.8 L453.7 187.4 L454.2 188.1 L454.7 188.7 L455.2 189.3 L455.7 189.9 L456.2 190.5 L456.7 191 L457.3 191.5 L457.8 192.1 L458.3 192.6 L458.8 193 L459.3 193.5 L459.8 194 L460.3 194.4 L460.8 194.8 L461.3 195.2 L461.8 195.6 L462.3 195.9 L462.8 196.3 L463.3 196.6 L463.8 196.9 L464.3 197.2 L464.8 197.5 L465.3 197.8 L465.8 198.1 L466.3 198.3 L466.8 198.6 L467.3 198.8 L467.8 199 L468.4 199.2 L468.9 199.4 L469.4 199.5 L469.9 199.7 L470.4 199.9 L470.9 200 L471.4 200.1 L471.9 200.3 L472.4 200.4 L472.9 200.5 L473.4 200.6 L473.9 200.7 L474.4 200.8 L474.9 200.9 L475.4 200.9 L475.9 201 L476.4 201.1 L476.9 201.1 L477.4 201.2 L477.9 201.2 L478.4 201.3 L478.9 201.3 L479.5 201.3 L480 201.4 L480.5 201.4 L481 201.4 L481.5 201.4 L482 201.5 L482.5 201.5 L483 201.5 L483.5 201.5 L484 201.5 L484.5 201.5 L494 201.6 L503.6 201.6 L513.1 201.6 L522.7 201.6 L532.2 201.6" stroke="#d40404" stroke-width="2.3" stroke-dasharray="5.4 5.2"/>
<path d="M308.3 206.8 L309.7 206.7 L311 206.6 L312.4 206.4 L313.7 206.3 L315.1 206.2 L316.5 206.1 L317.8 205.9 L319.2 205.8 L320.6 205.6 L321.9 205.5 L323.3 205.3 L324.6 205.1 L326 205 L327.4 204.8 L328.7 204.6 L330.1 204.4 L331.5 204.2 L332.8 204 L334.2 203.8 L335.5 203.6 L336.9 203.4 L338.3 203.1 L339.6 202.9 L341 202.7 L342.3 202.4 L343.7 202.1 L345.1 201.9 L346.4 201.6 L347.8 201.3 L349.2 201 L350.5 200.7 L351.9 200.4 L353.2 200.1 L354.6 199.7 L356 199.4 L357.3 199 L358.7 198.7 L360 198.3 L361.4 197.9 L362.8 197.5 L364.1 197.1 L365.5 196.7 L366.9 196.3 L368.2 195.9 L369.6 195.4 L370.9 195 L372.3 194.5 L373.7 194 L375 193.5 L376.4 193 L377.8 192.5 L379.1 192 L380.5 191.5 L381.8 190.9 L383.2 190.3 L384.6 189.8 L385.9 189.2 L387.3 188.6 L388.6 188 L390 187.4 L391.4 186.8 L392.7 186.1 L394.1 185.5 L395.5 184.8 L396.8 184.1 L398.2 183.5 L399.5 182.8 L400.9 182.1 L402.3 181.4 L403.6 180.7 L405 180 L406.3 179.2 L407.7 178.5 L409.1 177.8 L410.4 177 L411.8 176.3 L413.2 175.5 L414.5 174.8 L415.9 174 L417.2 173.3 L418.6 172.5 L420 171.8 L421.3 171 L422.7 170.3 L424.1 169.5 L425.4 168.8 L426.8 168 L428.1 167.3 L429.5 166.6 L430 167.3 L430.5 168 L431 168.7 L431.5 169.4 L432 170.1 L432.5 170.8 L433 171.5 L433.5 172.2 L434 172.9 L434.5 173.5 L435.1 174.2 L435.6 174.9 L436.1 175.6 L436.6 176.3 L437.1 177 L437.6 177.6 L438.1 178.3 L438.6 179 L439.1 179.6 L439.6 180.3 L440.1 180.9 L440.6 181.6 L441.1 182.2 L441.6 182.9 L442.1 183.5 L442.6 184.1 L443.1 184.7 L443.6 185.3 L444.1 185.9 L444.6 186.5 L445.1 187.1 L445.6 187.7 L446.2 188.3 L446.7 188.8 L447.2 189.4 L447.7 189.9 L448.2 190.5 L448.7 191 L449.2 191.5 L449.7 192 L450.2 192.5 L450.7 193 L451.2 193.5 L451.7 193.9 L452.2 194.4 L452.7 194.8 L453.2 195.3 L453.7 195.7 L454.2 196.1 L454.7 196.5 L455.2 196.9 L455.7 197.3 L456.2 197.6 L456.7 198 L457.3 198.3 L457.8 198.7 L458.3 199 L458.8 199.3 L459.3 199.6 L459.8 199.9 L460.3 200.1 L460.8 200.4 L461.3 200.7 L461.8 200.9 L462.3 201.2 L462.8 201.4 L463.3 201.6 L463.8 201.8 L464.3 202 L464.8 202.2 L465.3 202.4 L465.8 202.5 L466.3 202.7 L466.8 202.8 L467.3 203 L467.8 203.1 L468.4 203.2 L468.9 203.4 L469.4 203.5 L469.9 203.6 L470.4 203.7 L470.9 203.8 L471.4 203.9 L471.9 203.9 L472.4 204 L472.9 204.1 L473.4 204.2 L473.9 204.2 L474.4 204.3 L474.9 204.3 L475.4 204.4 L475.9 204.4 L476.4 204.4 L476.9 204.5 L477.4 204.5 L477.9 204.5 L478.4 204.6 L478.9 204.6 L479.5 204.6 L480 204.6 L480.5 204.7 L481 204.7 L481.5 204.7 L482 204.7 L482.5 204.7 L483 204.7 L483.5 204.7 L484 204.7 L484.5 204.8 L494 204.8 L503.6 204.8 L513.1 204.8 L522.7 204.8 L532.2 204.8" stroke="#d40404" stroke-width="2.3" stroke-dasharray="5.4 5.2"/>
<path d="M308.3 208 L309.7 207.9 L311 207.8 L312.4 207.7 L313.7 207.7 L315.1 207.6 L316.5 207.5 L317.8 207.4 L319.2 207.3 L320.6 207.2 L321.9 207.1 L323.3 206.9 L324.6 206.8 L326 206.7 L327.4 206.6 L328.7 206.5 L330.1 206.3 L331.5 206.2 L332.8 206 L334.2 205.9 L335.5 205.8 L336.9 205.6 L338.3 205.4 L339.6 205.3 L341 205.1 L342.3 204.9 L343.7 204.8 L345.1 204.6 L346.4 204.4 L347.8 204.2 L349.2 204 L350.5 203.8 L351.9 203.6 L353.2 203.4 L354.6 203.2 L356 203 L357.3 202.7 L358.7 202.5 L360 202.2 L361.4 202 L362.8 201.7 L364.1 201.5 L365.5 201.2 L366.9 200.9 L368.2 200.7 L369.6 200.4 L370.9 200.1 L372.3 199.8 L373.7 199.5 L375 199.2 L376.4 198.9 L377.8 198.5 L379.1 198.2 L380.5 197.9 L381.8 197.5 L383.2 197.2 L384.6 196.8 L385.9 196.5 L387.3 196.1 L388.6 195.7 L390 195.4 L391.4 195 L392.7 194.6 L394.1 194.2 L395.5 193.8 L396.8 193.4 L398.2 193 L399.5 192.6 L400.9 192.2 L402.3 191.8 L403.6 191.3 L405 190.9 L406.3 190.5 L407.7 190.1 L409.1 189.6 L410.4 189.2 L411.8 188.8 L413.2 188.3 L414.5 187.9 L415.9 187.5 L417.2 187 L418.6 186.6 L420 186.2 L421.3 185.8 L422.7 185.3 L424.1 184.9 L425.4 184.5 L426.8 184.1 L428.1 183.7 L429.5 183.3 L430 183.7 L430.5 184.2 L431 184.6 L431.5 185.1 L432 185.5 L432.5 185.9 L433 186.4 L433.5 186.8 L434 187.2 L434.5 187.7 L435.1 188.1 L435.6 188.5 L436.1 189 L436.6 189.4 L437.1 189.8 L437.6 190.2 L438.1 190.7 L438.6 191.1 L439.1 191.5 L439.6 191.9 L440.1 192.3 L440.6 192.7 L441.1 193.1 L441.6 193.5 L442.1 193.9 L442.6 194.3 L443.1 194.7 L443.6 195.1 L444.1 195.5 L444.6 195.8 L445.1 196.2 L445.6 196.6 L446.2 196.9 L446.7 197.3 L447.2 197.6 L447.7 198 L448.2 198.3 L448.7 198.6 L449.2 198.9 L449.7 199.3 L450.2 199.6 L450.7 199.9 L451.2 200.2 L451.7 200.5 L452.2 200.8 L452.7 201 L453.2 201.3 L453.7 201.6 L454.2 201.8 L454.7 202.1 L455.2 202.3 L455.7 202.6 L456.2 202.8 L456.7 203 L457.3 203.2 L457.8 203.4 L458.3 203.6 L458.8 203.8 L459.3 204 L459.8 204.2 L460.3 204.4 L460.8 204.5 L461.3 204.7 L461.8 204.9 L462.3 205 L462.8 205.2 L463.3 205.3 L463.8 205.4 L464.3 205.5 L464.8 205.7 L465.3 205.8 L465.8 205.9 L466.3 206 L466.8 206.1 L467.3 206.2 L467.8 206.2 L468.4 206.3 L468.9 206.4 L469.4 206.5 L469.9 206.5 L470.4 206.6 L470.9 206.7 L471.4 206.7 L471.9 206.8 L472.4 206.8 L472.9 206.9 L473.4 206.9 L473.9 206.9 L474.4 207 L474.9 207 L475.4 207 L475.9 207.1 L476.4 207.1 L476.9 207.1 L477.4 207.1 L477.9 207.1 L478.4 207.2 L478.9 207.2 L479.5 207.2 L480 207.2 L480.5 207.2 L481 207.2 L481.5 207.2 L482 207.2 L482.5 207.2 L483 207.3 L483.5 207.3 L484 207.3 L484.5 207.3 L494 207.3 L503.6 207.3 L513.1 207.3 L522.7 207.3 L532.2 207.3" stroke="#d40404" stroke-width="2.3" stroke-dasharray="5.4 5.2"/>
</g>
<path d="M308.3 206.3h2.9M532.2 206.3h-2.9M308.3 201.2h2.9M532.2 201.2h-2.9M308.3 196.1h2.9M532.2 196.1h-2.9M308.3 190.9h2.9M532.2 190.9h-2.9M308.3 180.7h2.9M532.2 180.7h-2.9M308.3 175.6h2.9M532.2 175.6h-2.9M308.3 170.5h2.9M532.2 170.5h-2.9M308.3 165.4h2.9M532.2 165.4h-2.9M308.3 155.1h2.9M532.2 155.1h-2.9M308.3 150h2.9M532.2 150h-2.9M308.3 144.9h2.9M532.2 144.9h-2.9M308.3 139.8h2.9M532.2 139.8h-2.9M308.3 129.6h2.9M532.2 129.6h-2.9M308.3 124.4h2.9M532.2 124.4h-2.9M308.3 119.3h2.9M532.2 119.3h-2.9M308.3 114.2h2.9M532.2 114.2h-2.9M308.3 104h2.9M532.2 104h-2.9M308.3 98.9h2.9M532.2 98.9h-2.9M308.3 93.8h2.9M532.2 93.8h-2.9M308.3 88.6h2.9M532.2 88.6h-2.9M308.3 78.4h2.9M532.2 78.4h-2.9M308.3 73.3h2.9M532.2 73.3h-2.9M308.3 68.2h2.9M532.2 68.2h-2.9M308.3 63.1h2.9M532.2 63.1h-2.9M308.3 52.8h2.9M532.2 52.8h-2.9M308.3 47.7h2.9M532.2 47.7h-2.9M308.3 42.6h2.9M532.2 42.6h-2.9M308.3 37.5h2.9M532.2 37.5h-2.9M308.3 27.3h2.9M532.2 27.3h-2.9M308.3 22.1h2.9M532.2 22.1h-2.9M308.3 17h2.9M532.2 17h-2.9M308.3 11.9h2.9M532.2 11.9h-2.9M326.6 211.4v-2.9M326.6 6.8v2.9M337.3 211.4v-2.9M337.3 6.8v2.9M344.9 211.4v-2.9M344.9 6.8v2.9M350.8 211.4v-2.9M350.8 6.8v2.9M355.6 211.4v-2.9M355.6 6.8v2.9M359.6 211.4v-2.9M359.6 6.8v2.9M363.2 211.4v-2.9M363.2 6.8v2.9M366.3 211.4v-2.9M366.3 6.8v2.9M387.3 211.4v-2.9M387.3 6.8v2.9M398 211.4v-2.9M398 6.8v2.9M405.6 211.4v-2.9M405.6 6.8v2.9M411.5 211.4v-2.9M411.5 6.8v2.9M416.3 211.4v-2.9M416.3 6.8v2.9M420.4 211.4v-2.9M420.4 6.8v2.9M423.9 211.4v-2.9M423.9 6.8v2.9M427 211.4v-2.9M427 6.8v2.9M448.1 211.4v-2.9M448.1 6.8v2.9M458.8 211.4v-2.9M458.8 6.8v2.9M466.4 211.4v-2.9M466.4 6.8v2.9M472.3 211.4v-2.9M472.3 6.8v2.9M477.1 211.4v-2.9M477.1 6.8v2.9M481.1 211.4v-2.9M481.1 6.8v2.9M484.7 211.4v-2.9M484.7 6.8v2.9M487.8 211.4v-2.9M487.8 6.8v2.9M508.8 211.4v-2.9M508.8 6.8v2.9M519.5 211.4v-2.9M519.5 6.8v2.9M527.1 211.4v-2.9M527.1 6.8v2.9" stroke="#666" stroke-width="0.7" fill="none"/>
<path d="M308.3 185.8h5.6M532.2 185.8h-5.6M308.3 160.2h5.6M532.2 160.2h-5.6M308.3 134.7h5.6M532.2 134.7h-5.6M308.3 109.1h5.6M532.2 109.1h-5.6M308.3 83.5h5.6M532.2 83.5h-5.6M308.3 58h5.6M532.2 58h-5.6M308.3 32.4h5.6M532.2 32.4h-5.6M369.1 211.4v-5.6M369.1 6.8v5.6M429.8 211.4v-5.6M429.8 6.8v5.6M490.6 211.4v-5.6M490.6 6.8v5.6" stroke="#1c1c1c" stroke-width="1.15" fill="none"/>
<rect x="308.3" y="6.8" width="223.9" height="204.6" fill="none" stroke="#1c1c1c" stroke-width="1.15"/>
<text x="304.7" y="215.1" text-anchor="end" font-size="11.6">0</text>
<text x="304.7" y="189.5" text-anchor="end" font-size="11.6">0.5</text>
<text x="304.7" y="163.9" text-anchor="end" font-size="11.6">1</text>
<text x="304.7" y="138.4" text-anchor="end" font-size="11.6">1.5</text>
<text x="304.7" y="112.8" text-anchor="end" font-size="11.6">2</text>
<text x="304.7" y="87.2" text-anchor="end" font-size="11.6">2.5</text>
<text x="304.7" y="61.7" text-anchor="end" font-size="11.6">3</text>
<text x="304.7" y="36.1" text-anchor="end" font-size="11.6">3.5</text>
<text x="304.7" y="10.5" text-anchor="end" font-size="11.6">4</text>
<text x="300.5" y="223.5" font-size="11.4">10<tspan dy="-4.6" font-size="6.9">-2</tspan></text>
<text x="361.2" y="223.5" font-size="11.4">10<tspan dy="-4.6" font-size="6.9">-1</tspan></text>
<text x="422" y="223.5" font-size="11.4">10<tspan dy="-4.6" font-size="6.9">0</tspan></text>
<text x="482.8" y="223.5" font-size="11.4">10<tspan dy="-4.6" font-size="6.9">1</tspan></text>
<path d="M318.7 25.3H370.6" stroke="#0000a2" stroke-width="2.0" fill="none"/>
<path d="M318.1 39.5H370.6" stroke="#d40404" stroke-width="2.0" stroke-dasharray="5.3 5.5" fill="none"/>
<text x="379.6" y="29.4" font-size="11.6">GFMD</text>
<text x="379.6" y="43.6" font-size="11.6">FEM</text>
<circle cx="429.5" cy="76" r="6.1" fill="none" stroke="#000" stroke-width="1.05"/>
<path d="M435.4 73.4C444 71.4 452 70 461.5 69.3" fill="none" stroke="#000" stroke-width="1" stroke-linejoin="round"/>
<text x="463.3" y="67.9" font-size="11.3"><tspan font-style="italic">h</tspan><tspan dy="3" font-size="7.5">0</tspan><tspan dy="-3">=0.05</tspan></text>
<circle cx="428.2" cy="146" r="6.2" fill="none" stroke="#000" stroke-width="1.05"/>
<path d="M434.3 144.3L456.9 139.9L461.5 139.6" fill="none" stroke="#000" stroke-width="1" stroke-linejoin="round"/>
<text x="461.7" y="137.8" font-size="11.3"><tspan font-style="italic">h</tspan><tspan dy="3" font-size="7.5">0</tspan><tspan dy="-3">=0.02</tspan></text>
<circle cx="428.2" cy="168" r="6.2" fill="none" stroke="#000" stroke-width="1.05"/>
<path d="M434.2 165.9L456.9 162L461.5 161.7" fill="none" stroke="#000" stroke-width="1" stroke-linejoin="round"/>
<text x="462.8" y="159.7" font-size="11.3"><tspan font-style="italic">h</tspan><tspan dy="3" font-size="7.5">0</tspan><tspan dy="-3">=0.01</tspan></text>
<circle cx="425.8" cy="186" r="6.6" fill="none" stroke="#000" stroke-width="1.05"/>
<path d="M431.8 182.9L454 176.6Q459.6 175 465 175L476.5 175" fill="none" stroke="#000" stroke-width="1" stroke-linejoin="round"/>
<text x="477" y="173.4" font-size="11.3"><tspan font-style="italic">h</tspan><tspan dy="3" font-size="7.5">0</tspan><tspan dy="-3">=0.005</tspan></text>
<text x="410.9" y="234.8" font-size="13.6" font-style="italic">t/T<tspan dy="4.4" font-size="8.5" font-style="normal">z</tspan></text>
<text transform="translate(284.4 113.9) rotate(-90)" font-size="14" font-style="italic">p<tspan dy="3" font-size="8.5">r</tspan><tspan dy="-8.2" dx="-2.2" font-size="10" font-style="normal">*</tspan></text>
<text x="402.6" y="259" font-size="14.6" text-anchor="middle">(b)</text>
</g>
<g id="plot-c">
<clipPath id="clipC"><rect x="165.3" y="274.3" width="231.3" height="210.7"/></clipPath>
<g clip-path="url(#clipC)" fill="none" stroke-linejoin="round">
<path d="M165.3 472.7 L168.5 472.7 L171.7 472.7 L174.9 472.7 L178.1 472.7 L181.3 472.6 L184.5 472.6 L187.7 472.6 L190.9 472.6 L194.1 472.5 L197.3 472.5 L200.5 472.5 L203.7 472.5 L206.9 472.4 L210.1 472.4 L213.3 472.3 L216.5 472.3 L219.7 472.2 L222.9 472.2 L226.1 472.1 L229.4 472.1 L232.6 472 L235.8 472 L239 471.9 L242.2 471.8 L245.4 471.7 L248.6 471.6 L251.8 471.5 L255 471.4 L258.2 471.3 L261.4 471.2 L264.6 471 L267.8 470.8 L271 470.5 L274.2 470.2 L277.4 469.8 L280.6 469.3 L283.8 468.8 L287 468.2 L290.2 467.6 L291 467.1 L291.7 466.5 L292.5 466 L293.3 465.3 L294 464.7 L294.8 464 L295.6 463.2 L296.3 462.5 L297.1 461.7 L297.9 460.8 L298.6 459.9 L299.4 459 L300.2 458 L300.9 457 L301.7 455.9 L302.4 454.8 L303.2 453.7 L304 452.5 L304.7 451.3 L305.5 450 L306.3 448.7 L307 447.4 L307.8 446 L308.6 444.5 L309.3 443 L310.1 441.5 L310.9 439.9 L311.6 438.3 L312.4 436.5 L313.2 434.7 L313.9 432.8 L314.7 430.9 L315.5 429 L316.2 427 L317 425.1 L317.8 423.1 L318.5 421.2 L319.3 419.3 L320.1 417.3 L320.8 415.3 L321.6 413.2 L322.3 411 L323.1 408.8 L323.9 406.4 L324.6 403.9 L325.4 401.3 L326.2 398.7 L326.9 395.8 L327.7 392.7 L328.5 389.7 L329.2 386.7 L330 384 L330.8 381.6 L331.5 379.5 L332.3 377.5 L333.1 375.6 L333.8 373.8 L334.6 372.2 L335.4 370.8 L336.1 369.7 L336.9 368.6 L337.7 367.6 L338.4 366.7 L339.2 365.9 L340 365.2 L340.7 364.7 L341.5 364.2 L342.3 363.9 L343 363.5 L343.8 363.2 L344.5 363 L345.3 362.8 L346.1 362.7 L346.8 362.6 L347.6 362.5 L348.4 362.4 L349.1 362.4 L349.9 362.3 L350.7 362.3 L351.4 362.2 L352.2 362.2 L353 362.2 L353.7 362.2 L354.5 362.2 L355.3 362.2 L356 362.2 L356.8 362.2 L357.6 362.2 L358.3 362.2 L359.1 362.2 L359.9 362.2 L360.6 362.2 L361.4 362.2 L362.2 362.2 L362.9 362.2 L363.7 362.2 L364.5 362.2 L365.2 362.2 L366 362.2 L366.7 362.2 L367.5 362.2 L368.3 362.2 L369 362.2 L369.8 362.2 L370.6 362.2 L371.3 362.2 L372.1 362.2 L372.9 362.2 L373.6 362.2 L374.4 362.2 L375.2 362.2 L375.9 362.2 L376.7 362.2 L377.5 362.2 L378.2 362.2 L379 362.2 L379.8 362.2 L380.5 362.2 L381.3 362.2 L382.1 362.2 L382.8 362.2 L383.6 362.2 L384.4 362.2 L385.1 362.2 L385.9 362.2 L386.6 362.2 L387.4 362.2 L388.2 362.2 L388.9 362.2 L389.7 362.2 L390.5 362.2 L391.2 362.2 L392 362.2 L392.8 362.2 L393.5 362.2 L394.3 362.2 L395.1 362.2 L395.8 362.2 L396.6 362.2" stroke="#0000a2" stroke-width="2.2"/>
<path d="M165.3 472.7 L168.5 472.7 L171.7 472.7 L174.9 472.7 L178.1 472.7 L181.3 472.6 L184.5 472.6 L187.7 472.6 L190.9 472.6 L194.1 472.5 L197.3 472.5 L200.5 472.5 L203.7 472.5 L206.9 472.4 L210.1 472.4 L213.3 472.3 L216.5 472.3 L219.7 472.2 L222.9 472.2 L226.1 472.1 L229.4 472.1 L232.6 472 L235.8 472 L239 471.9 L242.2 471.8 L245.4 471.7 L248.6 471.6 L251.8 471.5 L255 471.4 L258.2 471.3 L261.4 471.2 L264.6 471 L267.8 470.8 L271 470.5 L274.2 470.2 L277.4 469.8 L280.6 469.3 L283.8 468.8 L287 468.2 L290.2 467.6 L291 467.1 L291.7 466.5 L292.5 466 L293.3 465.3 L294 464.7 L294.8 464 L295.6 463.2 L296.3 462.5 L297.1 461.7 L297.9 460.8 L298.6 459.9 L299.4 459 L300.2 458 L300.9 457 L301.7 455.9 L302.4 454.8 L303.2 453.7 L304 452.5 L304.7 451.3 L305.5 450 L306.3 448.7 L307 447.4 L307.8 446 L308.6 444.5 L309.3 443 L310.1 441.5 L310.9 439.9 L311.6 438.3 L312.4 436.5 L313.2 434.7 L313.9 432.8 L314.7 430.9 L315.5 429 L316.2 427 L317 425.1 L317.8 423.1 L318.5 421.2 L319.3 419.3 L320.1 417.3 L320.8 415.3 L321.6 413.2 L322.3 411 L323.1 408.8 L323.9 406.4 L324.6 403.9 L325.4 401.3 L326.2 398.7 L326.9 395.8 L327.7 392.7 L328.5 389.7 L329.2 386.7 L330 384 L330.8 381.6 L331.5 379.5 L332.3 377.5 L333.1 375.6 L333.8 373.8 L334.6 372.2 L335.4 370.8 L336.1 369.7 L336.9 368.6 L337.7 367.6 L338.4 366.7 L339.2 365.9 L340 365.2 L340.7 364.7 L341.5 364.2 L342.3 363.9 L343 363.5 L343.8 363.2 L344.5 363 L345.3 362.8 L346.1 362.7 L346.8 362.6 L347.6 362.5 L348.4 362.4 L349.1 362.4 L349.9 362.3 L350.7 362.3 L351.4 362.2 L352.2 362.2 L353 362.2 L353.7 362.2 L354.5 362.2 L355.3 362.2 L356 362.2 L356.8 362.2 L357.6 362.2 L358.3 362.2 L359.1 362.2 L359.9 362.2 L360.6 362.2 L361.4 362.2 L362.2 362.2 L362.9 362.2 L363.7 362.2 L364.5 362.2 L365.2 362.2 L366 362.2 L366.7 362.2 L367.5 362.2 L368.3 362.2 L369 362.2 L369.8 362.2 L370.6 362.2 L371.3 362.2 L372.1 362.2 L372.9 362.2 L373.6 362.2 L374.4 362.2 L375.2 362.2 L375.9 362.2 L376.7 362.2 L377.5 362.2 L378.2 362.2 L379 362.2 L379.8 362.2 L380.5 362.2 L381.3 362.2 L382.1 362.2 L382.8 362.2 L383.6 362.2 L384.4 362.2 L385.1 362.2 L385.9 362.2 L386.6 362.2 L387.4 362.2 L388.2 362.2 L388.9 362.2 L389.7 362.2 L390.5 362.2 L391.2 362.2 L392 362.2 L392.8 362.2 L393.5 362.2 L394.3 362.2 L395.1 362.2 L395.8 362.2 L396.6 362.2" stroke="#d40404" stroke-width="2.2" stroke-dasharray="5.6 5.2"/>
<path d="M166.8 362.2H396.6" stroke="#000" stroke-width="2.25" stroke-dasharray="7.2 4.43" fill="none"/>
<path d="M166.8 472.9H396.6" stroke="#000" stroke-width="2.25" stroke-dasharray="7.2 4.43" fill="none"/>
</g>
<path d="M165.3 476.6h2.9M396.6 476.6h-2.9M165.3 468.1h2.9M396.6 468.1h-2.9M165.3 459.7h2.9M396.6 459.7h-2.9M165.3 451.3h2.9M396.6 451.3h-2.9M165.3 434.4h2.9M396.6 434.4h-2.9M165.3 426h2.9M396.6 426h-2.9M165.3 417.6h2.9M396.6 417.6h-2.9M165.3 409.1h2.9M396.6 409.1h-2.9M165.3 392.3h2.9M396.6 392.3h-2.9M165.3 383.8h2.9M396.6 383.8h-2.9M165.3 375.4h2.9M396.6 375.4h-2.9M165.3 367h2.9M396.6 367h-2.9M165.3 350.1h2.9M396.6 350.1h-2.9M165.3 341.7h2.9M396.6 341.7h-2.9M165.3 333.3h2.9M396.6 333.3h-2.9M165.3 324.8h2.9M396.6 324.8h-2.9M165.3 308h2.9M396.6 308h-2.9M165.3 299.5h2.9M396.6 299.5h-2.9M165.3 291.1h2.9M396.6 291.1h-2.9M165.3 282.7h2.9M396.6 282.7h-2.9M184.2 485v-2.9M184.2 274.3v2.9M195.3 485v-2.9M195.3 274.3v2.9M203.1 485v-2.9M203.1 274.3v2.9M209.2 485v-2.9M209.2 274.3v2.9M214.2 485v-2.9M214.2 274.3v2.9M218.4 485v-2.9M218.4 274.3v2.9M222 485v-2.9M222 274.3v2.9M225.2 485v-2.9M225.2 274.3v2.9M247 485v-2.9M247 274.3v2.9M258.1 485v-2.9M258.1 274.3v2.9M265.9 485v-2.9M265.9 274.3v2.9M272 485v-2.9M272 274.3v2.9M277 485v-2.9M277 274.3v2.9M281.2 485v-2.9M281.2 274.3v2.9M284.8 485v-2.9M284.8 274.3v2.9M288 485v-2.9M288 274.3v2.9M309.8 485v-2.9M309.8 274.3v2.9M320.9 485v-2.9M320.9 274.3v2.9M328.7 485v-2.9M328.7 274.3v2.9M334.8 485v-2.9M334.8 274.3v2.9M339.8 485v-2.9M339.8 274.3v2.9M344 485v-2.9M344 274.3v2.9M347.6 485v-2.9M347.6 274.3v2.9M350.8 485v-2.9M350.8 274.3v2.9M372.6 485v-2.9M372.6 274.3v2.9M383.7 485v-2.9M383.7 274.3v2.9M391.5 485v-2.9M391.5 274.3v2.9" stroke="#666" stroke-width="0.7" fill="none"/>
<path d="M165.3 442.9h5.6M396.6 442.9h-5.6M165.3 400.7h5.6M396.6 400.7h-5.6M165.3 358.6h5.6M396.6 358.6h-5.6M165.3 316.4h5.6M396.6 316.4h-5.6M228.1 485v-5.6M228.1 274.3v5.6M290.9 485v-5.6M290.9 274.3v5.6M353.7 485v-5.6M353.7 274.3v5.6" stroke="#1c1c1c" stroke-width="1.15" fill="none"/>
<rect x="165.3" y="274.3" width="231.3" height="210.7" fill="none" stroke="#1c1c1c" stroke-width="1.15"/>
<text x="160.4" y="488.5" text-anchor="end" font-size="12.2">0</text>
<text x="160.4" y="446.4" text-anchor="end" font-size="12.2">0.5</text>
<text x="160.4" y="404.2" text-anchor="end" font-size="12.2">1</text>
<text x="160.4" y="362.1" text-anchor="end" font-size="12.2">1.5</text>
<text x="160.4" y="319.9" text-anchor="end" font-size="12.2">2</text>
<text x="160.4" y="277.8" text-anchor="end" font-size="12.2">2.5</text>
<text x="156.7" y="498" font-size="11.8">10<tspan dy="-4.6" font-size="6.9">-2</tspan></text>
<text x="219.5" y="498" font-size="11.8">10<tspan dy="-4.6" font-size="6.9">-1</tspan></text>
<text x="282.3" y="498" font-size="11.8">10<tspan dy="-4.6" font-size="6.9">0</tspan></text>
<text x="345.1" y="498" font-size="11.8">10<tspan dy="-4.6" font-size="6.9">1</tspan></text>
<path d="M182 292.8H235.7" stroke="#0000a2" stroke-width="1.9" fill="none"/>
<path d="M181.4 307.3H235.7" stroke="#d40404" stroke-width="1.9" stroke-dasharray="5.4 5.6" fill="none"/>
<text x="244" y="296.9" font-size="12.0">GFMD</text>
<text x="244" y="311.4" font-size="12.0">FEM</text>
<circle cx="322.5" cy="410.6" r="6.1" fill="none" stroke="#000" stroke-width="1.05"/>
<path d="M305.2 392.3L309.9 392.7L319 405.2" fill="none" stroke="#000" stroke-width="1" stroke-linejoin="round"/>
<text x="206.2" y="397.1" font-size="12.0"><tspan font-style="italic">h</tspan><tspan dy="2.6" font-size="7.2">0</tspan><tspan dy="-2.6">=0.005, 0.01, 0.02</tspan></text>
<text x="179.5" y="356.0" font-size="11.8">&#954;<tspan dy="2.6" font-size="7.2">r</tspan><tspan dy="-2.6">=1.471</tspan></text>
<text x="318.9" y="465.3" font-size="12.0">&#954;<tspan dy="2.6" font-size="7.2">r</tspan><tspan dy="-2.6" font-style="italic">G</tspan><tspan dy="2.6" font-size="7.2">0</tspan><tspan dy="-2.6">/</tspan><tspan font-style="italic">G</tspan><tspan dy="2.6" font-size="7.2">&#8734;</tspan><tspan dy="-2.6">=0.147</tspan></text>
<text x="271.3" y="510" font-size="14.0" font-style="italic">t/T<tspan dy="4.4" font-size="8.5" font-style="normal">z</tspan></text>
<text transform="translate(143.2 385.2) rotate(-90)" font-size="16">&#954;<tspan dy="3" font-size="8.5">r</tspan></text>
<text x="266.7" y="533.6" font-size="14.6" text-anchor="middle">(c)</text>
</g>
</svg>
</body></html>
